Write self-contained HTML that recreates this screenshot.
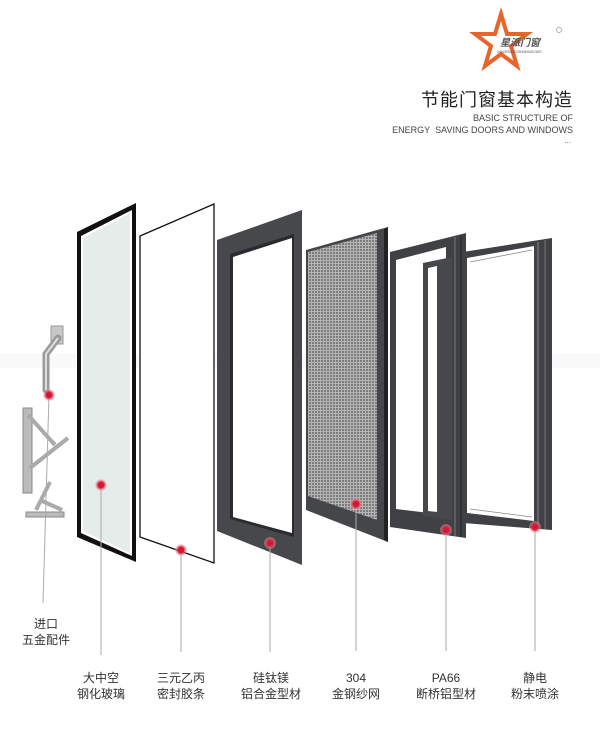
<!DOCTYPE html>
<html><head><meta charset="utf-8"><style>
html,body{margin:0;padding:0;background:#fff;}
body{width:600px;height:734px;overflow:hidden;position:relative;font-family:"Liberation Sans","Noto Sans CJK SC",sans-serif;}
.t{position:absolute;color:#333;font-size:12px;text-align:center;line-height:16px;width:100px;}
</style></head><body>
<svg width="600" height="734" style="position:absolute;left:0;top:0">
<defs>
<pattern id="mesh" width="3" height="3" patternUnits="userSpaceOnUse">
<rect width="3" height="3" fill="#b4b4b4"/><rect width="2" height="2" fill="#7c7c7c"/>
</pattern>
<radialGradient id="dot"><stop offset="0" stop-color="#d0102a"/><stop offset="0.5" stop-color="#d8203a"/><stop offset="1" stop-color="#f4b0b8" stop-opacity="0.3"/></radialGradient>
</defs>
<!-- logo -->
<polygon points="501,14 507,34 527,34 511,46 517,66 501,54 485,66 491,46 475,34 495,34" fill="none" stroke="#e8642a" stroke-width="4" stroke-linejoin="miter"/>
<text x="500" y="46" font-size="10" font-style="italic" font-weight="bold" fill="#555" font-family="Liberation Sans,Noto Sans CJK SC,sans-serif">星派门窗</text>
<text x="497" y="53" font-size="3.5" font-style="italic" fill="#555">XINGPAIDOOR&amp;WINDOWS</text>
<circle cx="559" cy="30" r="2.5" fill="none" stroke="#999" stroke-width="0.7"/>
<!-- watermark strip -->
<rect x="0" y="354" width="600" height="14" fill="#f4f4f4" opacity="0.5"/>
<!-- glass -->
<polygon points="77,232 136,203 136,562 77,537" fill="#111"/>
<polygon points="81,236 132,210 132,556 81,533" fill="#fff"/>
<polygon points="83,238 130,213 130,553 83,531" fill="#e6ecea"/>
<!-- seal -->
<polygon points="140,236 214,204 214,563 140,537" fill="#fff" stroke="#111" stroke-width="1.3"/>
<!-- aluminium frame -->
<polygon points="217,240 302,210 302,565 217,531" fill="#46484c"/>
<polygon points="230,254 294,234 294,537 230,519" fill="#2a2b2e"/>
<polygon points="233,257 292,238 292,533 233,517" fill="#fff"/>
<!-- screen -->
<polygon points="306,250 388,227 388,542 306,510" fill="#44464a"/>
<polygon points="384,229 388,227 388,542 384,540" fill="#222"/>
<polygon points="308,252 377,233 377,520 308,496" fill="url(#mesh)"/>
<!-- PA66 frame -->
<polygon points="390,252 466,233 466,538 390,527" fill="#3f4145"/>
<polygon points="396,260 446,247 446,515 396,509" fill="#fff"/>
<polygon points="423,263 452,257 452,520 423,516" fill="#46484c"/>
<polygon points="428,268 437,266 437,512 428,511" fill="#fff"/>
<line x1="455" y1="237" x2="455" y2="536" stroke="#777" stroke-width="1"/>
<line x1="461" y1="236" x2="461" y2="537" stroke="#222" stroke-width="1"/>
<!-- last frame -->
<polygon points="463,252 552,238 552,530 463,523" fill="#3f4145"/>
<polygon points="467,258 534,246 534,521 467,513" fill="#fff"/>
<line x1="538" y1="242" x2="538" y2="528" stroke="#888" stroke-width="1"/>
<line x1="545" y1="240" x2="545" y2="529" stroke="#777" stroke-width="1"/>
<line x1="470" y1="262" x2="532" y2="250" stroke="#888" stroke-width="0.8"/>
<line x1="470" y1="509" x2="532" y2="517" stroke="#888" stroke-width="0.8"/>
<!-- handle -->
<rect x="51" y="326" width="12" height="18" fill="#c8c8c8" stroke="#999"/>
<path d="M58,338 L46,354 L46,390" stroke="#9a9a9a" stroke-width="7" fill="none" stroke-linecap="round"/>
<path d="M58,338 L46,354 L46,390" stroke="#ddd" stroke-width="2" fill="none"/>
<!-- hinges -->
<rect x="23" y="408" width="9" height="85" fill="#bbb" stroke="#888"/>
<path d="M28,415 L55,445 M30,468 L68,438" stroke="#aaa" stroke-width="4" fill="none"/>
<path d="M50,482 L36,510 M40,500 L62,510" stroke="#aaa" stroke-width="4" fill="none"/>
<rect x="26" y="512" width="38" height="5" fill="#bbb" stroke="#888"/>
<!-- leader lines -->
<g stroke="#aaa" stroke-width="1">
<line x1="49" y1="395" x2="43" y2="603"/>
<line x1="101" y1="485" x2="101" y2="655"/>
<line x1="181" y1="550" x2="181" y2="652"/>
<line x1="270" y1="543" x2="270" y2="652"/>
<line x1="356" y1="504" x2="356" y2="651"/>
<line x1="446" y1="530" x2="446" y2="651"/>
<line x1="535" y1="527" x2="535" y2="651"/>
</g>
<g fill="url(#dot)">
<circle cx="49" cy="395" r="6"/><circle cx="101" cy="485" r="6"/><circle cx="181" cy="550" r="6"/>
<circle cx="270" cy="543" r="6"/><circle cx="356" cy="504" r="6"/><circle cx="446" cy="530" r="6"/><circle cx="535" cy="527" r="6"/>
</g>
</svg>
<div style="position:absolute;right:27px;top:86px;font-size:18px;color:#222;letter-spacing:1px;">节能门窗基本构造</div>
<div style="position:absolute;right:27px;top:112px;font-size:9px;color:#444;text-align:right;line-height:12px;">BASIC STRUCTURE OF<br>ENERGY&nbsp; SAVING DOORS AND WINDOWS</div>
<div style="position:absolute;right:29px;top:136px;font-size:8px;color:#666;">...</div>
<div class="t" style="left:-4px;top:616px;">进口<br>五金配件</div>
<div class="t" style="left:51px;top:670px;">大中空<br>钢化玻璃</div>
<div class="t" style="left:131px;top:670px;">三元乙丙<br>密封胶条</div>
<div class="t" style="left:221px;top:670px;">硅钛镁<br>铝合金型材</div>
<div class="t" style="left:306px;top:670px;">304<br>金钢纱网</div>
<div class="t" style="left:396px;top:670px;">PA66<br>断桥铝型材</div>
<div class="t" style="left:485px;top:670px;">静电<br>粉末喷涂</div>
</body></html>
